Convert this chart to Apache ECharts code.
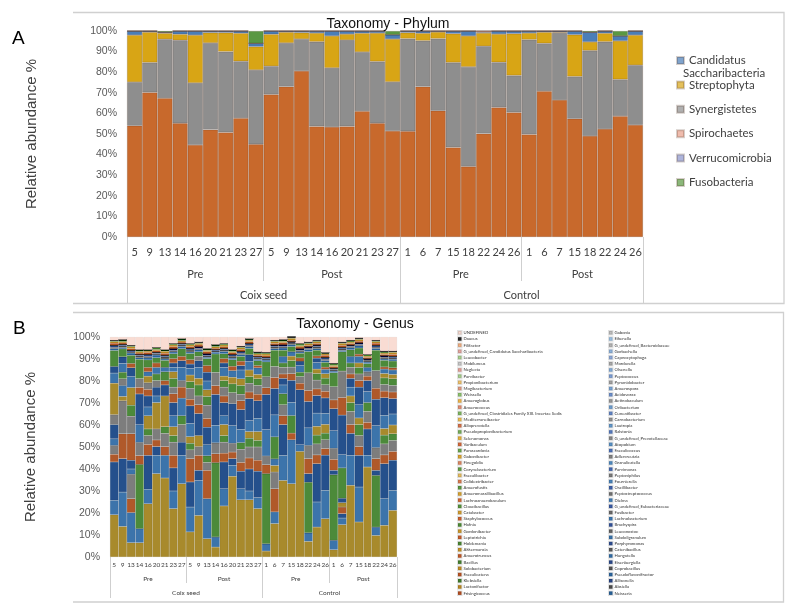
<!DOCTYPE html>
<html><head><meta charset="utf-8">
<script src="https://cdn.jsdelivr.net/npm/echarts@6/dist/echarts.min.js"></script>
<style>html,body{margin:0;padding:0;background:#fff}#c{width:796px;height:616px}</style>
</head><body><div id="c"></div><script>
// ---------- categories ----------
const samples = ['5','9','13','14','16','20','21','23','27','5','9','13','14','16','20','21','23','27','1','6','7','15','18','22','24','26','1','6','7','15','18','22','24','26'];
const periodLabels = ['Pre','Post','Pre','Post'];
const periodSizes = [9,9,8,8];
const groupLabels = ['Coix seed','Control'];
const groupSizes = [18,16];
const yAxisName = 'Relative abundance %';

// ---------- Panel A : phylum (%) ----------
const phylumNames = ['Firmicutes','Synergistetes','Streptophyta','Candidatus Saccharibacteria','Spirochaetes','Verrucomicrobia','Fusobacteria'];
const firmicutes    = [54,70.2,67.4,55.2,44.7,52.1,50.8,57.7,45, 69.2,73,80.6,53.7,53.4,53.7,61.1,55.2,51.5, 51.3,73,61.3,43.5,34.2,50.2,62.9,60.5, 49.8,70.8,66.5,57.4,49,52.4,58.7,54.4];
const synergistetes = [21.2,14.5,28.6,40.3,30.1,42.1,39.2,27.6,36.1, 13.7,21.2,15.5,41.1,28.7,41.9,28.7,30,23.8, 45,22.3,35,41.2,48.4,42.4,21.9,17.9, 46,23.2,32.5,20.5,41.5,42.4,17.8,29];
const streptophyta  = [22.8,14.7,2.9,2.9,23.2,5,9.2,13.6,11.3, 15.5,5.2,3.1,4.2,15.5,2.9,9.1,13.8,20.8, 2.9,3.6,3.2,14,15,6.4,13.7,20.3, 3.2,5.4,0.4,20.3,4.2,4.1,18.7,14.6];
const candidatus    = [2,0.6,0.5,1.6,2,0.8,0.8,1.1,1.6, 1.6,0.6,0.8,1,2.4,1.5,1.1,1,2.1, 0.8,1.1,0.5,1.3,2.4,0.4,1.5,1.3, 1,0.6,0.6,1.8,4.7,1.1,2.4,2];
const spirochaetes  = [0,0,0,0,0,0,0,0,0, 0,0,0,0,0,0,0,0,0, 0,0,0,0,0,0.6,0,0, 0,0,0,0,0,0,0,0];
const verrucomicrobia=[0,0,0,0,0,0,0,0,0, 0,0,0,0,0,0,0,0,0, 0,0,0,0,0,0,0,0, 0,0,0,0,0,0,0,0];
const fusobacteria  = [0,0,0.6,0,0,0,0,0,6, 0,0,0,0,0,0,0,0,1.8, 0,0,0,0,0,0,0,0, 0,0,0,0,0.6,0,2.4,0];
const phylumLegend = ['Candidatus Saccharibacteria','Streptophyta','Synergistetes','Spirochaetes','Verrucomicrobia','Fusobacteria'];

// ---------- Panel B : genus (%) ----------
// major genera at the bottom of the stack (beyond the truncated legend)
const majorNames = ['Genus 1','Genus 2','Genus 3','Genus 4','Genus 5','Genus 6','Genus 7','Genus 8','Genus 9','Genus 10','Genus 11','Genus 12','Genus 13','Genus 14','Genus 15','Genus 16','Genus 17','Genus 18'];
const g1  = [19.2,13.9,6.5,6.5,24.2,37.9,35.9,22,33.3, 11.4,18.9,8.3,4.5,23.2,36.7,26,26,22, 2.7,15.2,34.8,33.3,48,7.1,13.6,17.4, 3.3,14.7,32.6,15.9,40.9,9.8,14.4,21.2];
const g2  = [6.6,15.6,13.7,6.4,6.6,8.3,10.3,8,12.9, 11.3,15.9,18.2,4.6,7.8,5,5,4,5, 3.3,5.3,11.4,20,3,3.9,11.4,12.9, 4.3,3,13.6,15.9,5.3,3.8,12.1,9.1];
const g3  = [17.4,15.2,0,0,15.4,4,0,10.5,6, 11.4,4.6,0,0,12.2,3,8,10,12, 0,0,14,0,25,0,17.4,16, 0,2,10,14.4,12,0,15.9,13.7];
const g4  = [3.5,11.3,6.3,0,5,3,4,5.7,0, 10.6,6.8,12.9,0,4,3,4,5,5, 0,10.5,4,3,3,0,4,3, 0,3,4,4,3,0,4,4];
const g5  = [4,15,11.1,0,4,5,6,6,8, 4,4,3.6,0,5,4,6,5,6, 0,7.6,5,0,3,0,5,4, 0,0,6,5,5,0,5,5];
const g6  = [0,0,0,29.2,3,0,3,3,4, 3,0,3,33.8,3,0,3,4,3, 31.9,0,5,8,2,23,4,3, 29.8,0,4,5,4,23.5,4,3];
const g7  = [0,2,0,0,6,12,14,4,0, 3,5,0,0,5,0,0,3,4, 0,3,0,0,0,0,4,4, 0,2,3,3,0,0,3,4];
const g8  = [3,5,2.4,0,4,3,0,5,8, 6,0,5,0,4,8,6,5,6, 0,3,4,6,3,0,6,5, 0,0,4,6,5,0,6,5];
const g9  = [6.5,0,4,0,5,4,5,6,0, 8,10,8,0,6,10,9,10,8, 0,0,3,10,2,3.9,8,7, 2,2,4,8,5,2.3,8,7];
const g10 = [0,0,12,4,3,0,2,4,5, 3,4,4,4,3,0,4,3,3, 4,0,2,3,0,6.8,3,3, 5,0,2,3,2,5.3,3,3];
const g11 = [4.5,3,8,6,3,3,0,3,3, 5,4,6,5,4,5,3,4,4, 4,0,3,3,0,6,4,3, 5,0,3,3,2,5,3,3];
const g12 = [0,3,5,0,0,3,4,4,0, 3,5,4,0,3,4,4,3,3, 0,10,2,3,0,0,3,3, 0,13.8,2,3,0,0,3,3];
const g13 = [14.3,0,8,0,3,0,0,3,0, 3,3,3,0,2,3,3,3,2, 0,0,0,2,0,0,2,2, 0,0,0,2,0,0,2,2];
const g14 = [4.6,4,5,8,2,3,2,2,6, 3,5,4,8,4,3,4,4,3, 12,10,3,2,0,8,3,2, 8,6,3,3,2,10,2,2];
const g15 = [3,3,4,14,0,0,0,2,3, 2,3,4,14,2,0,2,3,0, 16,12,0,0,0,12,2,0, 10,18,0,0,0,12,0,0];
const g16 = [0,0,2,3,2,2,0,2,2, 2,0,3,4,2,2,2,0,1, 3,5,0,0,1.5,5,1,1, 4,8,0,1,0,5,1,1];
const g17 = [0,0,0,4,0,0,0,0,0, 0,2,0,6,0,0,0,0,0, 5,5,0,0,0,8,0,0, 6,12,0,0,0,8,0,0];
const g18 = [7.3,3.6,3.7,8.8,3.4,2.4,3.2,2.2,3.5, 2.8,2.1,3.2,8.4,2.2,3,2.2,2.8,2.2, 6.8,7.4,2.8,2.4,2.1,9.7,2.6,2.2, 6.4,8.8,3,2.8,1.7,9.3,3,3.1];
const majorValues = [g1,g2,g3,g4,g5,g6,g7,g8,g9,g10,g11,g12,g13,g14,g15,g16,g17,g18];

// genera listed in the chart legend (top of stack first)
const legendCol1 = ['UNDEFINED','Daucus','Filifactor','G_undefined_Candidatus Saccharibacteria','Leucobacter','Mobiluncus','Neglecta','Parvibacter','Propionibacterium','Mogibacterium','Weissella','Anaeroglobus','Anaerococcus','G_undefined_Clostridiales Family XIII. Incertae Sedis','Mediterraneibacter','Alloprevotella','Pseudopropionibacterium','Selenomonas','Varibaculum','Parascardovia','Gabonibacter','Finegoldia','Corynebacterium','Faecalibacter','Colidextribacter','Anaerofustis','Anaeromassilibacillus','Lachnoanaerobaculum','Cloacibacillus','Catabacter','Staphylococcus','Hafnia','Gordonibacter','Leptotrichia','Holdemania','Akkermansia','Anaerotruncus','Bacillus','Solobacterium','Faecalicatena','Klebsiella','Lactonifactor','Frisingicoccus'];
const legendCol2 = ['Gabonia','Eikenella','G_undefined_Bacteroidaceae','Gorbachella','Capnocytophaga','Mordavella','Olsenella','Peptococcus','Pyramidobacter','Anaerospora','Acidovorax','Actinobaculum','Oribacterium','Cuneatibacter','Carnobacterium','Lautropia','Ralstonia','G_undefined_Prevotellaceae','Atopobium','Faecalicoccus','Adlercreutzia','Granulicatella','Parvimonas','Peptoniphilus','Fournierella','Oscillibacter','Peptostreptococcus','Dielma','G_undefined_Eubacteriaceae','Fusibacter','Lachnobacterium','Brachyspira','Leuconostoc','Subdoligranulum','Porphyromonas','Catenibacillus','Hungatella','Eisenbergiella','Coprobacillus','Pseudoflavonifractor','Allisonella','Absiella','Neisseria'];
const UNDEFINED      = [1.5,1.2,3.8,5.8,5.8,4.8,5.8,3,0.8, 3,2.3,5.3,3.5,3,5.8,4.2,0.8,6.8, 7,1.5,1.2,0,3,2.3,1.5,7.1, 12,2.3,1.5,0.5,8,1.5,6.4,6.4];
const Neisseria      = [0.8,0.6,1.0,0.7,0.9,1.2,0.6,0.8,1.0, 0.7,0.9,0.6,0.8,1.0,0.7,0.8,0.9,0.6, 0.8,0.7,1.0,0.8,0.6,0.9,0.7,0.8, 0.7,0.6,0.9,1.0,0.7,0.8,0.6,0.8];
const Absiella       = [0.6,0.8,0.5,0.9,0.6,0.7,1.0,0.6,0.8, 0.9,0.6,0.7,0.6,0.8,0.9,0.6,0.6,0.7, 0.6,0.9,0.6,0.8,0.7,0.6,0.9,0.6, 0.8,0.7,0.6,0.6,0.9,0.6,0.8,0.6];
const Allisonella    = [1.0,0.7,0.8,0.6,1.0,0.6,0.8,0.9,0.6, 0.8,0.8,0.9,0.6,0.7,0.8,0.9,0.8,0.6, 0.7,0.8,0.9,0.6,0.8,0.7,0.8,0.9, 0.6,0.8,0.7,0.8,0.6,0.9,0.7,0.8];
const Frisingicoccus = [0.9,0.6,0.7,0.6,0.9,0.6,0.8,0.9,0.6, 0.7,0.8,0.9,0.6,0.6,0.7,0.9,0.8,0.6, 0.6,0.7,0.9,0.6,0.8,0.6,0.7,0.9, 0.6,0.8,0.6,0.7,0.6,0.9,0.6,0.8];
const Klebsiella     = [0.6,0.9,0.6,0.8,0.6,0.9,0.7,0.6,0.9, 0.6,0.6,0.8,0.9,0.6,0.8,0.6,0.6,0.9, 0.7,0.6,0.8,0.6,0.9,0.7,0.6,0.6, 0.9,0.6,0.8,0.6,0.7,0.6,0.9,0.6];
const Lactonifactor  = [0.7,0.6,0.9,0.7,0.6,0.6,0.9,0.8,0.6, 0.8,0.7,0.6,0.7,0.9,0.6,0.8,0.7,0.6, 0.9,0.8,0.6,0.9,0.6,0.8,0.8,0.6, 0.6,0.9,0.7,0.8,0.6,0.7,0.6,0.9];
const belowDetection = [0,0,0,0,0,0,0,0,0, 0,0,0,0,0,0,0,0,0, 0,0,0,0,0,0,0,0, 0,0,0,0,0,0,0,0];
const minorValues = {UNDEFINED, Neisseria, Absiella, Allisonella, Frisingicoccus, Klebsiella, Lactonifactor};

// ---------- styles ----------
const phylumColors = {'Firmicutes':'#c8692c','Synergistetes':'#8e8e8e','Streptophyta':'#d8a515','Candidatus Saccharibacteria':'#4a7eb8','Spirochaetes':'#e8a08a','Verrucomicrobia':'#8a94cc','Fusobacteria':'#5a9842'};
const majorCycle = ['#a88a2c','#3c74ab','#25508c','#b0592a','#7d7d7d','#4c8a3a'];
const col1Colors = ['#f9dcd3','#262626','#f4b183','#e6a6a0','#a9d18e','#c9c9c9','#e8a39a','#a9d18e','#f2c46c','#e39d83','#8fc56f','#f2b84b','#e58f72','#7fb861','#f0c050','#d9734a','#78b05a','#e9b43c','#d76b3d','#6aa84f','#e0a830','#e08a64','#62a046','#e9bf5f','#dd7c50','#5c9a40','#dba632','#d56a36','#58963d','#d6a030','#cf6330','#4f8e37','#cf9a2a','#c95e2b','#4a8833','#c99527','#c45a28','#46832f','#c49025','#bd5524','#417e2c','#bf8b22','#b85022'];
const col2Colors = ['#bfbfbf','#9dc3e6','#b4b4b4','#8fb4de','#8eaadb','#aaaaaa','#86aedb','#7d9fd6','#a3a3a3','#7aa6d6','#6f92cf','#9a9a9a','#6e9fd1','#6286c8','#929292','#6399cc','#577cc2','#8a8a8a','#5993c8','#4e73bc','#828282','#508cc3','#4569b4','#7b7b7b','#4a86be','#3f62ad','#737373','#437fb8','#3a5ba5','#6b6b6b','#3d79b3','#34559d','#646464','#3773ad','#2f4f95','#5c5c5c','#326ea8','#2b4a8e','#555555','#2d68a2','#274587','#4d4d4d','#28639c'];

function bounds(sizes){const b=[0];sizes.forEach(s=>b.push(b[b.length-1]+s));return b;}
function centers(sizes){const b=bounds(sizes);return sizes.map((s,i)=>b[i]+s/2);}
const N = samples.length;
const txt = '#404040';

function xAxes(grid, o){
  const pc = centers(periodSizes), gc = centers(groupSizes);
  return [
    {type:'category', gridIndex:grid, data:samples, axisLine:{show:false}, axisTick:{show:false},
     axisLabel:{interval:0, fontSize:o.fs, margin:o.m1, color:txt, fontFamily:'Lato'}},
    {type:'value', gridIndex:grid, min:0, max:N, position:'bottom', splitLine:{show:false}, axisLine:{show:false},
     axisTick:{show:true, customValues:bounds(periodSizes), length:o.t1, lineStyle:{color:'#cfcfcf', width:1}},
     axisLabel:{customValues:pc, formatter:v=>periodLabels[pc.indexOf(v)], fontSize:o.fs, margin:o.m2, color:txt, fontFamily:'Lato'}},
    {type:'value', gridIndex:grid, min:0, max:N, position:'bottom', splitLine:{show:false}, axisLine:{show:false},
     axisTick:{show:true, customValues:bounds(groupSizes), length:o.t2, lineStyle:{color:'#cfcfcf', width:1}},
     axisLabel:{customValues:gc, formatter:v=>groupLabels[gc.indexOf(v)], fontSize:o.fs, margin:o.m3, color:txt, fontFamily:'Lato'}}
  ];
}
function yAxis(grid, gap){
  return {type:'value', gridIndex:grid, min:0, max:100, interval:10, splitLine:{show:false}, axisLine:{show:false}, axisTick:{show:false},
    axisLabel:{formatter:'{value}%', fontSize:10.5, color:'#595959', fontFamily:'Liberation Sans', margin:10},
    name:yAxisName, nameLocation:'middle', nameGap:gap, nameTextStyle:{fontSize:15, color:txt, fontFamily:'Liberation Sans'}};
}

const series = [];
const phylumData = [firmicutes, synergistetes, streptophyta, candidatus, spirochaetes, verrucomicrobia, fusobacteria];
phylumNames.forEach((n,i)=>series.push({name:n, type:'bar', stack:'A', xAxisIndex:0, yAxisIndex:0, barCategoryGap:'0%',
  data:phylumData[i], itemStyle:{color:phylumColors[n], borderColor:'rgba(60,30,10,0.3)', borderWidth:0.6}}));
majorNames.forEach((n,i)=>series.push({name:n, type:'bar', stack:'B', xAxisIndex:3, yAxisIndex:1, barCategoryGap:'0%',
  data:majorValues[i], itemStyle:{color:majorCycle[i%6], borderColor:'rgba(0,0,0,0.15)', borderWidth:0.4}}));
const stackGenera = legendCol2.map((n,i)=>[n,col2Colors[i]]).reverse().concat(legendCol1.map((n,i)=>[n,col1Colors[i]]).reverse());
stackGenera.forEach(([n,c])=>series.push({name:n, type:'bar', stack:'B', xAxisIndex:3, yAxisIndex:1, barCategoryGap:'0%',
  data:minorValues[n]||belowDetection, itemStyle:{color:c, borderColor:'rgba(0,0,0,0.12)', borderWidth:0.3}}));

const legB = (left, names)=>({show:true, orient:'vertical', left, top:325, itemWidth:3.5, itemHeight:3.5, itemGap:0.7, selectedMode:false,
  icon:'rect', data:names, textStyle:{fontSize:4.3, lineHeight:4.5, color:'#333', fontFamily:'Lato', padding:[0,0,0,-3]}});

const option = {
  animation:false,
  title:[
    {text:'Taxonomy - Phylum', left:383, top:12, textAlign:'center', textStyle:{fontSize:14, fontWeight:'normal', color:'#111', fontFamily:'Liberation Sans'}},
    {text:'Taxonomy - Genus', left:350, top:312, textAlign:'center', textStyle:{fontSize:14, fontWeight:'normal', color:'#111', fontFamily:'Liberation Sans'}}
  ],
  grid:[{left:127, top:31, width:516, height:206}, {left:110, top:337, width:287, height:220}],
  xAxis:[...xAxes(0,{fs:11, m1:9.5, m2:31.5, m3:52.5, t1:44, t2:66}), ...xAxes(1,{fs:6.5, m1:4.7, m2:18.7, m3:32.7, t1:26, t2:41})],
  yAxis:[yAxis(0,88), yAxis(1,72)],
  legend:[
    {orient:'vertical', left:671, top:49, itemWidth:7, itemHeight:7, itemGap:11.4, selectedMode:false, icon:'rect',
     data:phylumLegend, formatter:n=>n==='Candidatus Saccharibacteria'?'Candidatus':n,
     itemStyle:{opacity:0.7}, textStyle:{fontSize:11.5, lineHeight:13, color:txt, fontFamily:'Lato'}},
    legB(452, legendCol1), legB(603, legendCol2)
  ],
  graphic:[
    {type:'text', left:12, top:29, style:{text:'A', fontSize:19, fill:'#000', fontFamily:'Liberation Sans'}},
    {type:'text', left:13, top:319, style:{text:'B', fontSize:19, fill:'#000', fontFamily:'Liberation Sans'}},
    {type:'text', x:683, y:73, style:{text:'Saccharibacteria', fontSize:11.5, fill:txt, fontFamily:'Lato', textVerticalAlign:'middle'}},
    {type:'polyline', shape:{points:[[73,12.5],[784,12.5],[784,303.5],[73,303.5]]}, style:{stroke:'#d0d0d0', lineWidth:1.3, fill:null}},
    {type:'polyline', shape:{points:[[73,312.5],[783.5,312.5],[783.5,602],[73,602]]}, style:{stroke:'#d0d0d0', lineWidth:1.3, fill:null}}
  ],
  series
};
const chart = echarts.init(document.getElementById('c'), null, {renderer:'canvas'});
chart.setOption(option);
</script></body></html>
